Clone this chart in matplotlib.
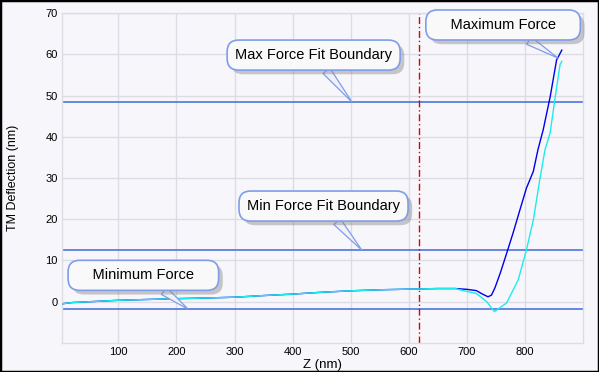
import matplotlib
matplotlib.use("Agg")
import matplotlib.pyplot as plt
import matplotlib.patheffects as pe
from matplotlib.patches import Rectangle

plt.rcParams['font.family'] = ['Liberation Sans', 'DejaVu Sans']

# baseline (shared by both curves) then the two branches
base_z = [3, 20, 50, 100, 150, 200, 250, 300, 350, 400, 450, 500, 550, 600, 650, 680]
base_y = [-0.5, -0.2, 0.0, 0.35, 0.55, 0.75, 0.9, 1.1, 1.5, 1.85, 2.3, 2.65, 2.9, 3.05, 3.2, 3.2]

blue_z = base_z + [700, 716, 726, 736, 742, 748, 757, 768, 779, 791, 802, 814, 822, 831, 843, 854, 863]
blue_y = base_y + [3.0, 2.7, 1.9, 1.2, 1.6, 3.4, 6.9, 11.7, 16.6, 22.3, 27.5, 31.6, 36.9, 41.7, 49.7, 58.6, 61.0]

cyan_z = base_z + [690, 716, 734, 747, 758, 768, 778, 788, 802, 814, 825, 834, 843, 851, 860, 863]
cyan_y = base_y + [2.8, 2.0, 0.0, -2.4, -1.3, -0.3, 2.5, 5.3, 12.5, 19.8, 29.5, 36.8, 41.0, 49.0, 57.5, 58.3]

max_fit = 48.4
min_fit = 12.5
min_force = -1.8
contact_z = 618

labels = ["Max Force Fit Boundary", "Maximum Force", "Min Force Fit Boundary", "Minimum Force"]
tips = [(502, max_fit), (856, 59.1), (519, min_fit), (220, min_force)]
boxes = [(436, 59.8), (762, 67.1), (453, 23.2), (143, 6.4)]

bg = "#f7f7fb"
gridc = "#dcdce4"
linec = "#5a7ee0"

fig = plt.figure(figsize=(5.99, 3.72), dpi=100, facecolor=bg)
ax = fig.add_axes([0.1035, 0.078, 0.8703, 0.887])
ax.set_facecolor(bg)

ax.plot(blue_z, blue_y, color="#0000e6", lw=1.0, zorder=3)
ax.plot(cyan_z, cyan_y, color="#1eecec", lw=1.0, zorder=4)

for yv in [max_fit, min_fit, min_force]:
    ax.axhline(yv, color=linec, lw=1.3, zorder=2)
ax.axvline(contact_z, color="#e00000", lw=1.0, dashes=(5, 2, 1, 2), zorder=2)

ax.set_xlim(3, 900)
ax.set_ylim(-10, 70)
ax.set_xticks(range(100, 900, 100))
ax.set_yticks(range(0, 80, 10))
ax.grid(True, color=gridc, lw=1.0, zorder=0)
ax.set_axisbelow(True)
for s in ax.spines.values():
    s.set_color(gridc)
    s.set_linewidth(1.0)
ax.tick_params(length=0, labelsize=8, pad=3)
ax.set_xlabel("Z (nm)", fontsize=9.5, labelpad=1)
ax.set_ylabel("TM Deflection (nm)", fontsize=9, labelpad=19)

for lab, tip, box in zip(labels, tips, boxes):
    txt = lab if len(lab) > 15 else "    " + lab + "    "
    ann = ax.annotate(txt, xy=tip, xytext=box, ha="center", va="center",
                      fontsize=10.5, annotation_clip=False, zorder=6,
                      bbox=dict(boxstyle="round,pad=0.55,rounding_size=0.8",
                                fc="#f9f9fa", ec="#7f9deb", lw=1.2),
                      arrowprops=dict(arrowstyle="wedge,tail_width=0.6,shrink_factor=0.5",
                                      fc="#f2f2f6", ec="#7f9deb", lw=0.9,
                                      shrinkA=0, shrinkB=0))
    ann.get_bbox_patch().set_path_effects([
        pe.withSimplePatchShadow(offset=(3, -3), shadow_rgbFace="#888888", alpha=0.45)])

fig.patches.append(Rectangle((0, 0), 1, 1, transform=fig.transFigure,
                             fill=False, ec="black", lw=2.5))

fig.savefig("out.png", dpi=100, facecolor=bg)
